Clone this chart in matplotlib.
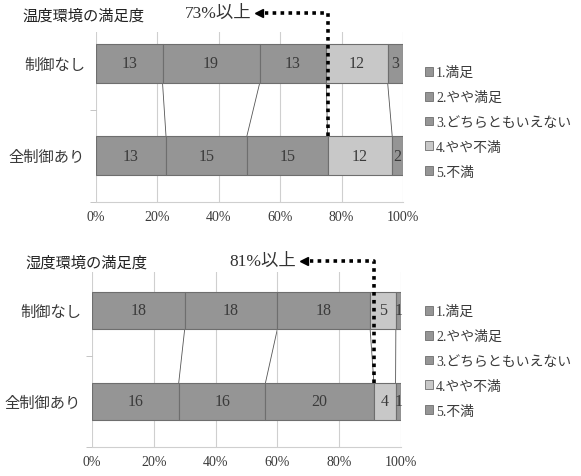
import matplotlib.pyplot as plt
import numpy as np
from matplotlib.patches import Patch

plt.rcParams['font.family'] = ['Liberation Serif', 'Noto Sans CJK JP', 'DejaVu Sans']

# 回答数（満足 → 不満）
groups = ['全制御あり', '制御なし']
levels = ['1.満足', '2.やや満足', '3.どちらともいえない', '4.やや不満', '5.不満']
temp_counts = [[13, 15, 15, 12, 2],   # 全制御あり
               [13, 19, 13, 12, 3]]   # 制御なし
humid_counts = [[16, 16, 20, 4, 1],
                [18, 18, 18, 5, 1]]
titles = ['温度環境の満足度', '湿度環境の満足度']
notes = ['73%以上', '81%以上']
pct_ticks = [0, 20, 40, 60, 80, 100]

colors = ['#959595', '#959595', '#959595', '#c8c8c8', '#959595']
edge = '#6e6e6e'
txt = '#3a3a3a'

fig = plt.figure(figsize=(5.81, 4.77), dpi=100)


def draw_panel(rect, counts, ylim, bar_h, title, title_pos, note, top_y, tip_x, leg_anchor):
    ax = fig.add_axes(rect)
    counts = np.array(counts, dtype=float)
    share = counts / counts.sum(axis=1, keepdims=True)
    cum = np.cumsum(share, axis=1)
    left = cum - share
    ypos = np.arange(len(groups))
    for j in range(len(levels)):
        ax.barh(ypos, share[:, j], left=left[:, j], height=bar_h,
                color=colors[j], edgecolor=edge, linewidth=0.8, zorder=2)
        for i in ypos:
            ax.text(left[i, j] + share[i, j] / 2, i, '%d' % counts[i, j],
                    ha='center', va='center', fontsize=11.5, color=txt, zorder=3)
    # 区分線
    for j in range(len(levels) - 1):
        ax.plot([cum[1, j], cum[0, j]], [1 - bar_h / 2, bar_h / 2],
                color='#555555', lw=0.6, zorder=1)

    ax.set_xlim(0, 1)
    ax.set_ylim(*ylim)
    ax.set_xticks([p / 100 for p in pct_ticks])
    ax.set_xticklabels(['%d%%' % p for p in pct_ticks])
    ax.set_yticks(ypos)
    ax.set_yticklabels(groups)
    ax.set_yticks([-0.5, 0.5], minor=True)
    ax.tick_params(axis='x', length=0, labelsize=10, labelcolor=txt, pad=6)
    ax.tick_params(axis='y', which='major', length=0, labelsize=11, labelcolor=txt, pad=8)
    ax.tick_params(axis='y', which='minor', length=4, color='#bbbbbb', direction='out')
    ax.grid(axis='x', color='#cfcfcf', lw=0.8, zorder=0)
    for s in ['top', 'right']:
        ax.spines[s].set_visible(False)
    ax.spines['left'].set_visible(False)
    ax.spines['bottom'].set_color('#cfcfcf')

    fig.text(title_pos[0], title_pos[1], title, fontsize=11, color='#222222',
             ha='left', va='center')

    # 矢印付き点線
    x0 = cum[0, 2]
    ax.plot([x0, x0, tip_x + 0.02], [bar_h / 2, top_y, top_y], color='black',
            lw=2.6, linestyle=(0, (1, 1.2)), dash_capstyle='butt', clip_on=False, zorder=4)
    ax.plot([tip_x], [top_y], marker='<', color='black', markersize=6, clip_on=False, zorder=4)
    ax.text(tip_x - 0.025, top_y, note, ha='right', va='center', fontsize=12.5,
            color='#333333', clip_on=False)

    handles = [Patch(facecolor=c, edgecolor=edge, linewidth=0.6) for c in colors]
    fig.legend(handles, levels, loc='upper left', bbox_to_anchor=leg_anchor, frameon=False,
               fontsize=10, handlelength=0.6, handleheight=0.6, handletextpad=0.2,
               labelspacing=0.85, borderpad=0, labelcolor=txt)
    return ax


draw_panel([96 / 581, 1 - 203 / 477, 307 / 581, 170 / 477], temp_counts,
           (-0.5, 1.34), 0.42, titles[0], (22 / 581, 1 - 16 / 477), notes[0],
           1.546, 0.53, (418 / 581, 1 - 60 / 477))
draw_panel([92 / 581, 1 - 448 / 477, 309 / 581, 175 / 477], humid_counts,
           (-0.5, 1.42), 0.41, titles[1], (25 / 581, 1 - 263 / 477), notes[1],
           1.544, 0.685, (418 / 581, 1 - 299 / 477))

fig.savefig('out.png', dpi=100)
